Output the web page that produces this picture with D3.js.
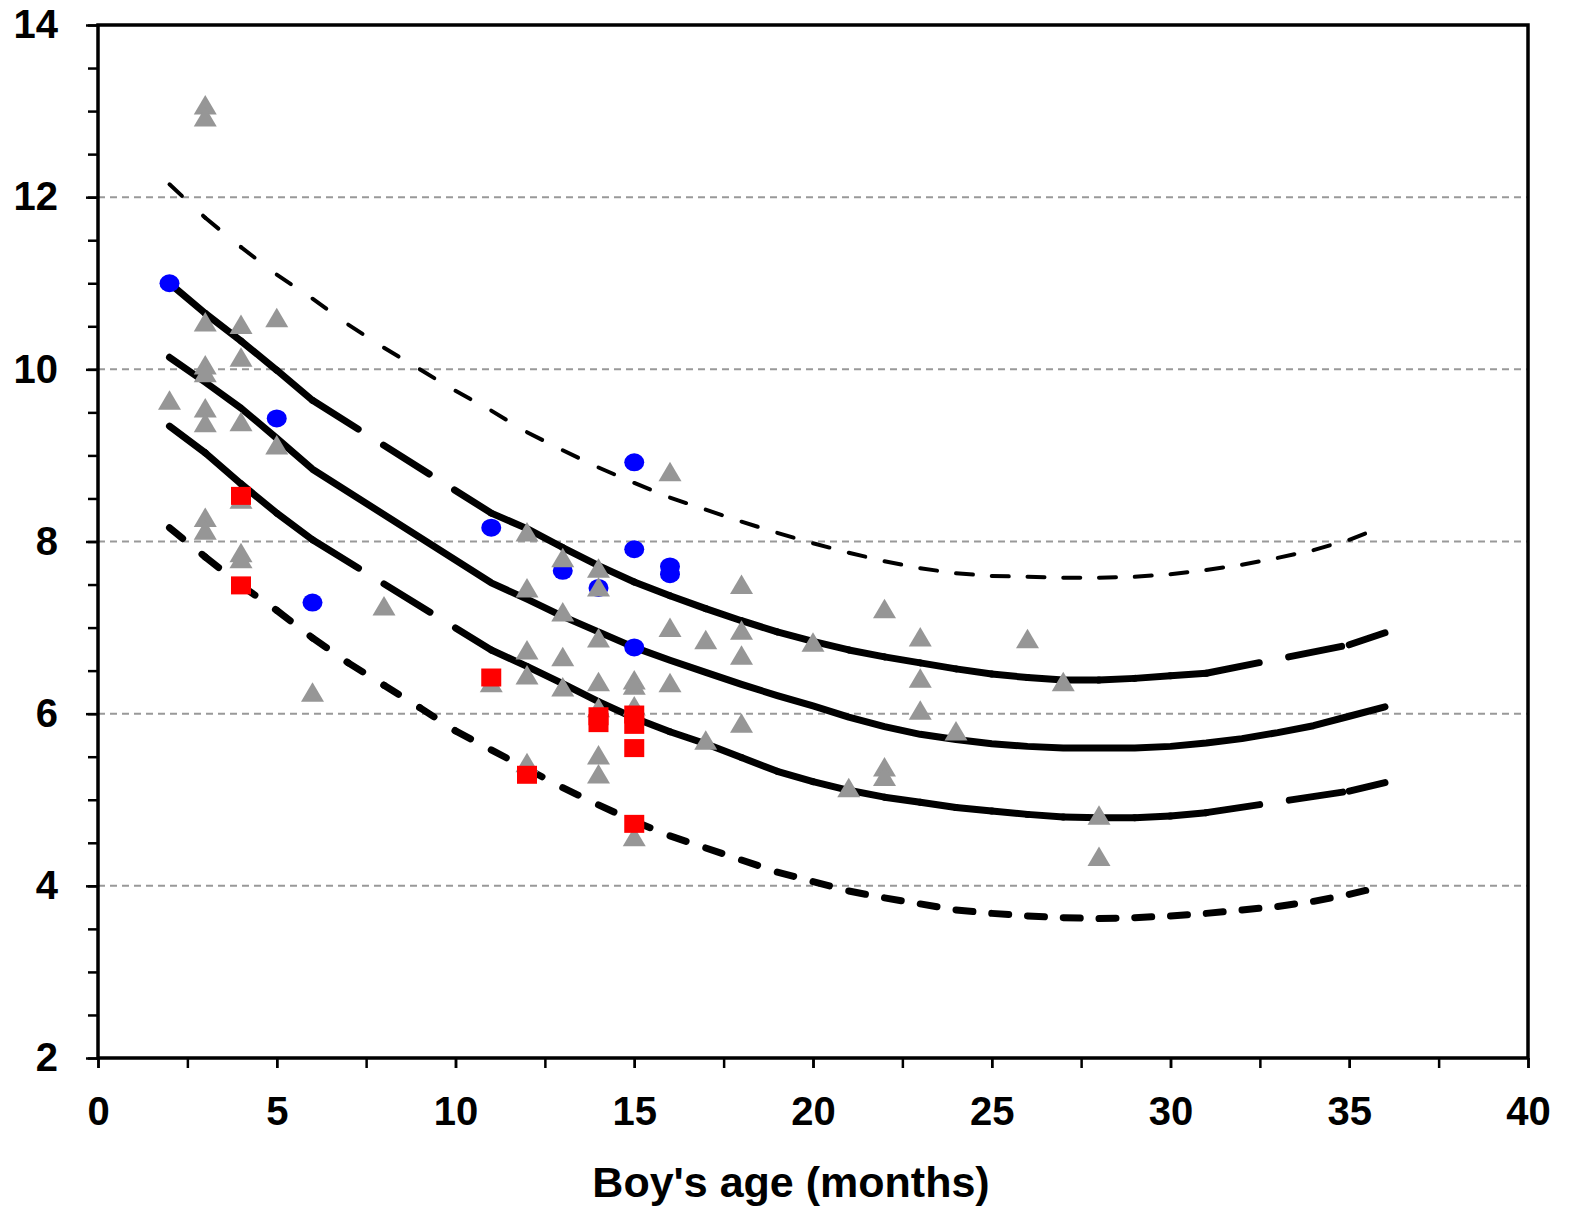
<!DOCTYPE html>
<html>
  <head>
    <meta http-equiv="Content-Type" content="text/html; charset=UTF-8">
    <script type="text/javascript" src="https://cdn.jsdelivr.net/npm/d3@7"></script>
    <style>
      body { margin: 0; background: #fff; }
      #chart text { font-family: "Liberation Sans", Arial, sans-serif; font-weight: bold; }
    </style>
  </head>
  <body>
    <div id="chart"></div>
    <script>
// reference curves
var bandMonths = [2,3,4,5,6,11,12,13,14,15,16,17,18,19,20,21,22,23,24,25,26,27,28,29,30,31,35,36];
var upperVals = [11.0,10.65,10.33,9.99,9.64, 8.33,8.15,7.93,7.72,7.53,7.37,7.22,7.08,6.95,6.84,
                 6.74,6.66,6.59,6.52,6.46,6.42,6.39,6.39,6.41,6.44,6.47, 6.80,6.94];
var lowerVals = [9.34,9.03,8.67,8.33,8.02, 6.74,6.55,6.35,6.14,5.95,5.79,5.65,5.49,5.33,5.21,
                 5.11,5.03,4.97,4.91,4.87,4.83,4.80,4.79,4.79,4.81,4.85, 5.10,5.20];

var midMonths = [2,3,4,5,6,11,12,13,14,15,16,17,18,19,20,21,22,23,24,25,26,27,28,29,30,31,32,33,34,35,36];
var midVals = [10.14,9.85,9.55,9.20,8.84, 7.52,7.33,7.13,6.95,6.77,6.62,6.48,6.34,6.21,6.09,
               5.96,5.85,5.76,5.70,5.65,5.62,5.60,5.60,5.60,5.62,5.66, 5.71,5.78,5.86,5.97,6.08];

var outerMonths = d3.range(2, 37);
var topVals = [12.15,11.76,11.42,11.10,10.82,10.52,10.25,10.00,9.75,
               9.52,9.27,9.06,8.86,8.68,8.51,8.37,8.23,8.10,7.98,
               7.87,7.77,7.69,7.63,7.60,7.59,7.58,7.58,7.59,7.62,
               7.67,7.73,7.81,7.90,8.02,8.18];
var botVals = [8.16,7.82,7.49,7.20,6.88,6.59,6.33,6.07,5.80,
               5.58,5.36,5.14,4.94,4.75,4.58,4.44,4.30,4.16,4.05,
               3.94,3.86,3.79,3.72,3.68,3.65,3.63,3.62,3.63,3.65,
               3.68,3.72,3.76,3.82,3.90,4.00];

// observations
var triX = [2, 3,3,3,3,3,3,3,3,3, 4,4,4,4,4,4, 5,5, 6, 8, 11, 12,12,12,12,12, 13,13,13,13,
            14,14,14,14,14,14,14, 15,15,15,15, 16,16,16, 17,17, 18,18,18,18, 20, 21, 22,22,22,
            23,23,23, 24, 26, 27, 28,28];
var triY = [9.64, 13.07,12.93,10.55,10.05,9.96,9.55,9.38,8.28,8.13, 10.52,10.14,9.39,8.49,7.87,7.80,
            10.60,9.12, 6.25, 7.25, 6.36, 8.11,7.46,6.74,6.45,5.43, 7.81,7.18,6.66,6.31,
            7.69,7.47,6.88,6.37,6.07,5.52,5.30, 6.39,6.33,6.09,4.57, 8.81,7.00,6.36, 6.86,5.69,
            7.50,6.97,6.68,5.89, 6.83, 5.14, 7.22,5.38,5.27, 6.89,6.41,6.04, 5.80, 6.87, 6.37, 4.82,4.34];

var blueX = [2, 5, 6, 11, 13, 14, 15,15,15, 16,16];
var blueY = [11.0, 9.43, 7.29, 8.16, 7.66, 7.46, 8.92,7.91,6.77, 7.71,7.62];

var redX = [4,4, 11, 12, 14,14, 15,15,15,15];
var redY = [8.53,7.49, 6.42, 5.29, 5.97,5.89, 5.99,5.87,5.60,4.72];

var yTicks = [2,4,6,8,10,12,14];
var xTicks = [0,5,10,15,20,25,30,35,40];
var gridVals = [4,6,8,10,12];

var width = 1571, height = 1211;
var margin = {top: 25, left: 98, right: 43, bottom: 153};

var x = d3.scaleLinear().domain([0, 40]).range([margin.left, width - margin.right]);
var y = d3.scaleLinear().domain([2, 14]).range([height - margin.bottom, margin.top]);

var svg = d3.select("#chart").append("svg")
    .attr("width", width)
    .attr("height", height);

svg.append("rect").attr("width", width).attr("height", height).attr("fill", "#fff");

// grid
svg.append("g").selectAll("line")
    .data(gridVals)
  .enter().append("line")
    .attr("x1", x(0)).attr("x2", x(40))
    .attr("y1", function (d) { return y(d); })
    .attr("y2", function (d) { return y(d); })
    .attr("stroke", "#999")
    .attr("stroke-width", 2)
    .attr("stroke-dasharray", "7,5");

var line = d3.line()
    .x(function (d) { return x(d[0]); })
    .y(function (d) { return y(d[1]); });

function zip(xs, ys) { return xs.map(function (v, i) { return [v, ys[i]]; }); }

// dash pattern restarts at every data point, as in the original spreadsheet
function segmented(pts, w, dash) {
  svg.append("g").selectAll("path")
      .data(d3.pairs(pts))
    .enter().append("path")
      .attr("d", function (d) { return line(d); })
      .attr("fill", "none")
      .attr("stroke", "#000")
      .attr("stroke-width", w)
      .attr("stroke-linecap", "round")
      .attr("stroke-dasharray", dash);
}

segmented(zip(outerMonths, topVals), 4, "17,29");
segmented(zip(bandMonths, upperVals), 7, "54,30");
segmented(zip(bandMonths, lowerVals), 7, "54,30");
segmented(zip(outerMonths, botVals), 7, "17,25");

svg.append("path")
    .attr("d", line(zip(midMonths, midVals)))
    .attr("fill", "none")
    .attr("stroke", "#000")
    .attr("stroke-width", 7)
    .attr("stroke-linejoin", "round")
    .attr("stroke-linecap", "round");

// markers
svg.append("g").selectAll("ellipse")
    .data(zip(blueX, blueY))
  .enter().append("ellipse")
    .attr("cx", function (d) { return x(d[0]); })
    .attr("cy", function (d) { return y(d[1]); })
    .attr("rx", 10).attr("ry", 9)
    .attr("fill", "#0000ff");

svg.append("g").selectAll("path")
    .data(zip(triX, triY))
  .enter().append("path")
    .attr("transform", function (d) { return "translate(" + x(d[0]) + "," + y(d[1]) + ")"; })
    .attr("d", "M0,-10L11.5,9.5L-11.5,9.5Z")
    .attr("fill", "#969696");

svg.append("g").selectAll("rect")
    .data(zip(redX, redY))
  .enter().append("rect")
    .attr("x", function (d) { return x(d[0]) - 10; })
    .attr("y", function (d) { return y(d[1]) - 9; })
    .attr("width", 20).attr("height", 18)
    .attr("fill", "#ff0000");

// axes
var yMinor = d3.range(2, 14.01, 0.5);
var xMinor = d3.range(0, 40.01, 2.5);

svg.append("g")
    .attr("transform", "translate(" + x(0) + ",0)")
    .call(d3.axisLeft(y).tickValues(yMinor).tickSize(10).tickSizeOuter(0).tickFormat(""))
    .call(function (g) { g.select(".domain").remove(); g.selectAll("line").attr("stroke-width", 2.5); });

svg.append("g")
    .attr("transform", "translate(" + x(0) + ",0)")
    .call(d3.axisLeft(y).tickValues(yTicks).tickSize(12).tickSizeOuter(0).tickPadding(28))
    .call(function (g) {
      g.select(".domain").remove();
      g.selectAll("line").attr("stroke-width", 2.5);
      g.selectAll("text").attr("font-size", 40).attr("fill", "#000");
    });

svg.append("g")
    .attr("transform", "translate(0," + y(2) + ")")
    .call(d3.axisBottom(x).tickValues(xMinor).tickSize(10).tickSizeOuter(0).tickFormat(""))
    .call(function (g) { g.select(".domain").remove(); g.selectAll("line").attr("stroke-width", 2.5); });

svg.append("g")
    .attr("transform", "translate(0," + y(2) + ")")
    .call(d3.axisBottom(x).tickValues(xTicks).tickSize(10).tickSizeOuter(0).tickPadding(29))
    .call(function (g) {
      g.select(".domain").remove();
      g.selectAll("line").attr("stroke-width", 2.5);
      g.selectAll("text").attr("font-size", 40).attr("fill", "#000");
    });

// frame
svg.append("rect")
    .attr("x", x(0)).attr("y", y(14))
    .attr("width", x(40) - x(0)).attr("height", y(2) - y(14))
    .attr("fill", "none")
    .attr("stroke", "#000")
    .attr("stroke-width", 3.5);

svg.append("text")
    .attr("x", 791)
    .attr("y", 1197)
    .attr("text-anchor", "middle")
    .attr("font-size", 43)
    .text("Boy's age (months)");
    </script>
  </body>
</html>
